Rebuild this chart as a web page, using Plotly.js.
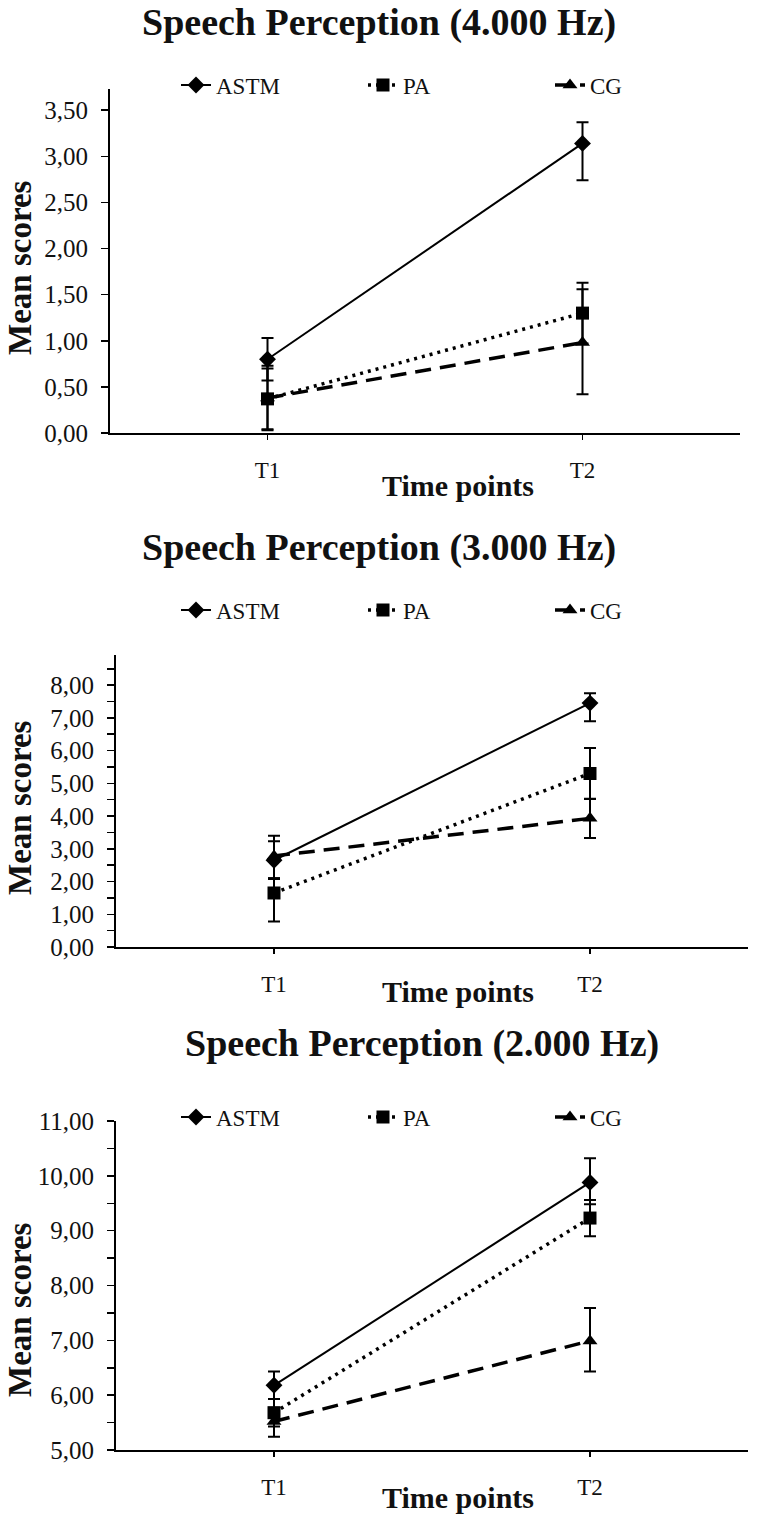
<!DOCTYPE html>
<html>
<head>
<meta charset="utf-8">
<script src="https://cdn.plot.ly/plotly-3.0.1.min.js"></script>
<style>
  body { margin: 0; background: #fff; }
  #chart { width: 764px; height: 1526px; }
</style>
</head>
<body>
<div id="chart"></div>
<script>
// time points and groups
var timePoints = ["T1", "T2"];
var groups = ["ASTM", "PA", "CG"];

// 4.000 Hz
var astm4k = [0.80, 3.14];
var astm4kUp = [0.23, 0.23];
var astm4kDown = [0.23, 0.40];
var pa4k = [0.37, 1.30];
var pa4kUp = [0.33, 0.33];
var pa4kDown = [0.33, 0.33];
var cg4k = [0.38, 0.98];
var cg4kUp = [0.35, 0.58];
var cg4kDown = [0.35, 0.56];

// 3.000 Hz
var astm3k = [2.65, 7.45];
var astm3kUp = [0.75, 0.30];
var astm3kDown = [0.55, 0.55];
var pa3k = [1.65, 5.30];
var pa3kUp = [0.45, 0.78];
var pa3kDown = [0.87, 0.78];
var cg3k = [2.78, 3.93];
var cg3kUp = [0.45, 0.60];
var cg3kDown = [0.70, 0.60];

// 2.000 Hz
var astm2k = [6.18, 9.88];
var astm2kUp = [0.25, 0.44];
var astm2kDown = [0.25, 0.40];
var pa2k = [5.68, 9.23];
var pa2kUp = [0.25, 0.33];
var pa2kDown = [0.25, 0.33];
var cg2k = [5.52, 6.99];
var cg2kUp = [0.25, 0.60];
var cg2kDown = [0.28, 0.56];

var panelTitles = ["Speech Perception (4.000 Hz)", "Speech Perception (3.000 Hz)", "Speech Perception (2.000 Hz)"];

var FONT = "Liberation Serif";
var styles = {
  ASTM: { dash: "solid", width: 2, symbol: "diamond" },
  PA: { dash: "3px,5px", width: 3.5, symbol: "square" },
  CG: { dash: "16px,9px", width: 3.5, symbol: "triangle-up" }
};

function series(name, y, up, down, n) {
  var s = styles[name];
  return {
    x: timePoints, y: y, name: name, type: "scatter", mode: "lines+markers",
    xaxis: n == 1 ? "x" : "x" + n, yaxis: n == 1 ? "y" : "y" + n,
    legend: n == 1 ? "legend" : "legend" + n,
    line: { color: "#000", width: s.width, dash: s.dash },
    marker: { color: "#000", symbol: s.symbol, size: 13 },
    error_y: { type: "data", symmetric: false, array: up, arrayminus: down,
               color: "#000", thickness: 2, width: 6 }
  };
}

var data = [
  series("ASTM", astm4k, astm4kUp, astm4kDown, 1),
  series("PA", pa4k, pa4kUp, pa4kDown, 1),
  series("CG", cg4k, cg4kUp, cg4kDown, 1),
  series("ASTM", astm3k, astm3kUp, astm3kDown, 2),
  series("PA", pa3k, pa3kUp, pa3kDown, 2),
  series("CG", cg3k, cg3kUp, cg3kDown, 2),
  series("ASTM", astm2k, astm2kUp, astm2kDown, 3),
  series("PA", pa2k, pa2kUp, pa2kDown, 3),
  series("CG", cg2k, cg2kUp, cg2kDown, 3)
];

function xAxis(domain) {
  return {
    domain: domain, type: "category", range: [-0.5, 1.5],
    showline: true, linecolor: "#000", linewidth: 2,
    ticks: "outside", ticklen: 5, tickwidth: 1.5, tickcolor: "#000",
    ticklabelstandoff: 10, showgrid: false, zeroline: false,
    tickfont: { family: FONT, size: 23, color: "#111" }, fixedrange: true
  };
}

function yAxis(domain, range, minor) {
  var ax = {
    domain: domain, range: range, dtick: minor ? 1 : 0.5, tick0: range[0],
    tickformat: ".2f", showline: true, linecolor: "#000", linewidth: 2,
    ticks: "outside", ticklen: 7, tickwidth: 1.5, tickcolor: "#000",
    ticklabelstandoff: 8, showgrid: false, zeroline: false,
    tickfont: { family: FONT, size: 25, color: "#111" }, fixedrange: true
  };
  if (minor) ax.minor = { dtick: 0.5, ticks: "outside", ticklen: 7, tickwidth: 1.5, tickcolor: "#000", showgrid: false };
  return ax;
}

function legend(y) {
  return {
    orientation: "h", x: 176 / 764, xanchor: "left", y: y, yanchor: "middle",
    entrywidth: 142, entrywidthmode: "pixels", bgcolor: "rgba(0,0,0,0)",
    font: { family: FONT, size: 23, color: "#111" }
  };
}

function py(px) { return 1 - px / 1526; }

var annotations = [];
var titleX = [379, 379, 422];
var titleY = [22, 547, 1043];
var xTitleY = [485, 992, 1497];
var yTitleY = [268, 808, 1310];
for (var i = 0; i < 3; i++) {
  annotations.push({ text: panelTitles[i], xref: "paper", yref: "paper", x: titleX[i] / 764, y: py(titleY[i]),
    xanchor: "center", yanchor: "middle", showarrow: false,
    font: { family: FONT, size: 38, color: "#111", weight: "bold" } });
  annotations.push({ text: "Time points", xref: "paper", yref: "paper", x: 458 / 764, y: py(xTitleY[i]),
    xanchor: "center", yanchor: "middle", showarrow: false,
    font: { family: FONT, size: 30, color: "#111", weight: "bold" } });
  annotations.push({ text: "Mean scores", xref: "paper", yref: "paper", x: 20 / 764, y: py(yTitleY[i]),
    xanchor: "center", yanchor: "middle", textangle: -90, showarrow: false,
    font: { family: FONT, size: 33, color: "#111", weight: "bold" } });
}

var layout = {
  width: 764, height: 1526,
  margin: { l: 0, r: 0, t: 0, b: 0 },
  paper_bgcolor: "#fff", plot_bgcolor: "#fff",
  separators: ",.",
  showlegend: true,
  font: { family: FONT, color: "#111" },
  xaxis: xAxis([110 / 764, 740 / 764]),
  yaxis: yAxis([py(433), py(89)], [0, 3.73], false),
  xaxis2: Object.assign(xAxis([116 / 764, 748 / 764]), { anchor: "y2" }),
  yaxis2: Object.assign(yAxis([py(947), py(655)], [0, 8.92], true), { anchor: "x2" }),
  xaxis3: Object.assign(xAxis([116 / 764, 748 / 764]), { anchor: "y3" }),
  yaxis3: Object.assign(yAxis([py(1450), py(1121)], [5, 11], true), { anchor: "x3" }),
  legend: legend(py(85)),
  legend2: legend(py(610)),
  legend3: legend(py(1117)),
  annotations: annotations
};

Plotly.newPlot("chart", data, layout, { displayModeBar: false, staticPlot: true });
</script>
</body>
</html>
